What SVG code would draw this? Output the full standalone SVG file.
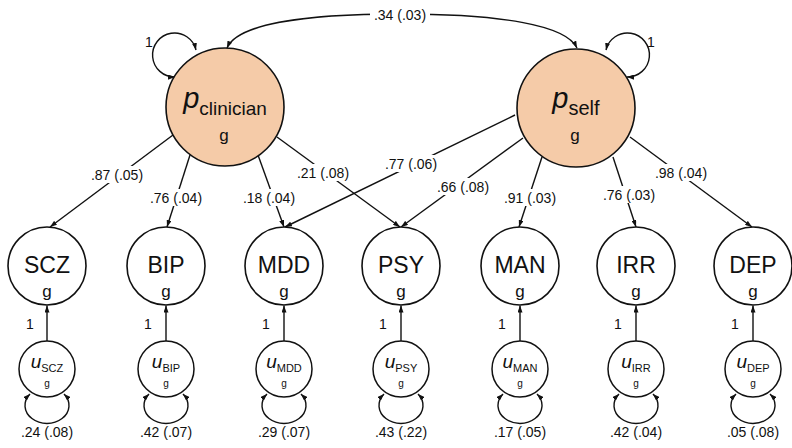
<svg xmlns="http://www.w3.org/2000/svg" width="792" height="448" viewBox="0 0 792 448">
  <defs>
    <marker id="arrow" viewBox="0 0 7 5" refX="7" refY="2.5" markerWidth="7" markerHeight="5" markerUnits="userSpaceOnUse" orient="auto-start-reverse">
      <path d="M0,0 L7,2.5 L0,5 z" fill="#111"/>
    </marker>
    <style>
      text { font-family: "Liberation Sans", Arial, Helvetica, sans-serif; fill: #111; }
      .lat { fill: #F5CBA8; stroke: #111; stroke-width: 1.6; }
      .obs { fill: #fff; stroke: #111; stroke-width: 1.6; }
      .res { fill: #fff; stroke: #111; stroke-width: 1.5; }
      .edge { fill: none; stroke: #111; stroke-width: 1.4; marker-end: url(#arrow); }
      .twoway { fill: none; stroke: #111; stroke-width: 1.4; marker-start: url(#arrow); marker-end: url(#arrow); }
      .lbl { font-size: 14px; text-anchor: middle; }
      .bg { fill: #fff; }
      .name { font-size: 23px; text-anchor: middle; }
      .g { font-size: 17px; text-anchor: middle; }
      .gs { font-size: 10px; text-anchor: middle; }
    </style>
  </defs>

  <rect width="792" height="448" fill="#fff"/>

  <!-- connectors -->
  <g id="connectors">
    <!-- covariance between the two general factors -->
    <path class="twoway" d="M227,48 C237,25 300,14 400,14 C500,14 566,25 577,48"/>
    <rect class="bg" x="370" y="6" width="60" height="18"/>
    <text class="lbl" x="400" y="20">.34 (.03)</text>

    <!-- factor variances -->
    <path class="twoway" d="M175,77 A22,22 0 1 1 196,50"/>
    <text class="lbl" x="149" y="47">1</text>
    <path class="twoway" d="M606,50 A22,22 0 1 1 627,77"/>
    <text class="lbl" x="651" y="47">1</text>

    <!-- loadings: p_clinician -->
    <path class="edge" d="M173,135 L50,227"/>
    <path class="edge" d="M190,155 L167,227"/>
    <path class="edge" d="M258,155 L284,227"/>
    <path class="edge" d="M277,137 L400,227"/>
    <!-- loadings: p_self -->
    <path class="edge" d="M515,115 L285,227"/>
    <path class="edge" d="M523,138 L401,227"/>
    <path class="edge" d="M542,157 L519,227"/>
    <path class="edge" d="M613,157 L636,227"/>
    <path class="edge" d="M630,137 L752,227"/>

    <!-- loading labels -->
    <rect class="bg" x="89" y="166" width="56" height="17"/>
    <text class="lbl" x="117" y="180">.87 (.05)</text>
    <rect class="bg" x="148" y="189" width="56" height="17"/>
    <text class="lbl" x="176" y="203">.76 (.04)</text>
    <rect class="bg" x="241" y="189" width="56" height="17"/>
    <text class="lbl" x="269" y="203">.18 (.04)</text>
    <rect class="bg" x="295" y="164" width="56" height="17"/>
    <text class="lbl" x="323" y="178">.21 (.08)</text>
    <rect class="bg" x="383" y="155" width="56" height="17"/>
    <text class="lbl" x="411" y="169">.77 (.06)</text>
    <rect class="bg" x="435" y="178" width="56" height="17"/>
    <text class="lbl" x="463" y="192">.66 (.08)</text>
    <rect class="bg" x="502" y="189" width="56" height="17"/>
    <text class="lbl" x="530" y="203">.91 (.03)</text>
    <rect class="bg" x="601" y="186" width="56" height="17"/>
    <text class="lbl" x="629" y="200">.76 (.03)</text>
    <rect class="bg" x="653" y="164" width="56" height="17"/>
    <text class="lbl" x="681" y="178">.98 (.04)</text>

    <!-- unique factor paths, fixed at 1 -->
    <path class="edge" d="M47,341 L47,305.5"/>
    <text class="lbl" x="30" y="329">1</text>
    <path class="edge" d="M166,341 L166,305.5"/>
    <text class="lbl" x="148" y="329">1</text>
    <path class="edge" d="M284,341 L284,305.5"/>
    <text class="lbl" x="266" y="329">1</text>
    <path class="edge" d="M401,341 L401,305.5"/>
    <text class="lbl" x="383" y="329">1</text>
    <path class="edge" d="M520,341 L520,305.5"/>
    <text class="lbl" x="502" y="329">1</text>
    <path class="edge" d="M636,341 L636,305.5"/>
    <text class="lbl" x="618" y="329">1</text>
    <path class="edge" d="M753,341 L753,305.5"/>
    <text class="lbl" x="735" y="329">1</text>

    <!-- unique factor variances -->
    <path class="twoway" d="M30,394 A22,18 0 1 0 64,394"/>
    <text class="lbl" x="47" y="437">.24 (.08)</text>
    <path class="twoway" d="M149,394 A22,18 0 1 0 183,394"/>
    <text class="lbl" x="166" y="437">.42 (.07)</text>
    <path class="twoway" d="M267,394 A22,18 0 1 0 301,394"/>
    <text class="lbl" x="284" y="437">.29 (.07)</text>
    <path class="twoway" d="M384,394 A22,18 0 1 0 418,394"/>
    <text class="lbl" x="401" y="437">.43 (.22)</text>
    <path class="twoway" d="M503,394 A22,18 0 1 0 537,394"/>
    <text class="lbl" x="520" y="437">.17 (.05)</text>
    <path class="twoway" d="M619,394 A22,18 0 1 0 653,394"/>
    <text class="lbl" x="636" y="437">.42 (.04)</text>
    <path class="twoway" d="M736,394 A22,18 0 1 0 770,394"/>
    <text class="lbl" x="753" y="437">.05 (.08)</text>
  </g>

  <!-- general factors -->
  <g id="p_clinician">
    <circle class="lat" cx="225" cy="107" r="59"/>
    <text x="225" y="108" text-anchor="middle"><tspan font-size="29" font-style="italic">p</tspan><tspan font-size="19" dy="7">clinician</tspan></text>
    <text class="g" font-size="18" x="224" y="141">g</text>
  </g>
  <g id="p_self">
    <circle class="lat" cx="576" cy="108" r="59"/>
    <text x="576" y="108" text-anchor="middle"><tspan font-size="29" font-style="italic">p</tspan><tspan font-size="20" dy="7">self</tspan></text>
    <text class="g" font-size="18" x="575" y="141">g</text>
  </g>

  <!-- observed factors -->
  <g id="SCZ">
    <circle class="obs" cx="47" cy="266" r="39"/>
    <text class="name" x="47" y="273">SCZ</text>
    <text class="g" x="47" y="297">g</text>
  </g>
  <g id="BIP">
    <circle class="obs" cx="166" cy="266" r="39"/>
    <text class="name" x="166" y="273">BIP</text>
    <text class="g" x="166" y="297">g</text>
  </g>
  <g id="MDD">
    <circle class="obs" cx="284" cy="266" r="39"/>
    <text class="name" x="284" y="273">MDD</text>
    <text class="g" x="284" y="297">g</text>
  </g>
  <g id="PSY">
    <circle class="obs" cx="401" cy="266" r="39"/>
    <text class="name" x="401" y="273">PSY</text>
    <text class="g" x="401" y="297">g</text>
  </g>
  <g id="MAN">
    <circle class="obs" cx="520" cy="266" r="39"/>
    <text class="name" x="520" y="273">MAN</text>
    <text class="g" x="520" y="297">g</text>
  </g>
  <g id="IRR">
    <circle class="obs" cx="636" cy="266" r="39"/>
    <text class="name" x="636" y="273">IRR</text>
    <text class="g" x="636" y="297">g</text>
  </g>
  <g id="DEP">
    <circle class="obs" cx="753" cy="266" r="39"/>
    <text class="name" x="753" y="273">DEP</text>
    <text class="g" x="753" y="297">g</text>
  </g>

  <!-- unique factors -->
  <g id="u_SCZ">
    <circle class="res" cx="47" cy="369" r="28"/>
    <text x="47" y="368" text-anchor="middle"><tspan font-size="19" font-style="italic">u</tspan><tspan font-size="11" dy="4">SCZ</tspan></text>
    <text class="gs" x="47" y="387">g</text>
  </g>
  <g id="u_BIP">
    <circle class="res" cx="166" cy="369" r="28"/>
    <text x="166" y="368" text-anchor="middle"><tspan font-size="19" font-style="italic">u</tspan><tspan font-size="11" dy="4">BIP</tspan></text>
    <text class="gs" x="166" y="387">g</text>
  </g>
  <g id="u_MDD">
    <circle class="res" cx="284" cy="369" r="28"/>
    <text x="284" y="368" text-anchor="middle"><tspan font-size="19" font-style="italic">u</tspan><tspan font-size="11" dy="4">MDD</tspan></text>
    <text class="gs" x="284" y="387">g</text>
  </g>
  <g id="u_PSY">
    <circle class="res" cx="401" cy="369" r="28"/>
    <text x="401" y="368" text-anchor="middle"><tspan font-size="19" font-style="italic">u</tspan><tspan font-size="11" dy="4">PSY</tspan></text>
    <text class="gs" x="401" y="387">g</text>
  </g>
  <g id="u_MAN">
    <circle class="res" cx="520" cy="369" r="28"/>
    <text x="520" y="368" text-anchor="middle"><tspan font-size="19" font-style="italic">u</tspan><tspan font-size="11" dy="4">MAN</tspan></text>
    <text class="gs" x="520" y="387">g</text>
  </g>
  <g id="u_IRR">
    <circle class="res" cx="636" cy="369" r="28"/>
    <text x="636" y="368" text-anchor="middle"><tspan font-size="19" font-style="italic">u</tspan><tspan font-size="11" dy="4">IRR</tspan></text>
    <text class="gs" x="636" y="387">g</text>
  </g>
  <g id="u_DEP">
    <circle class="res" cx="753" cy="369" r="28"/>
    <text x="753" y="368" text-anchor="middle"><tspan font-size="19" font-style="italic">u</tspan><tspan font-size="11" dy="4">DEP</tspan></text>
    <text class="gs" x="753" y="387">g</text>
  </g>
</svg>
